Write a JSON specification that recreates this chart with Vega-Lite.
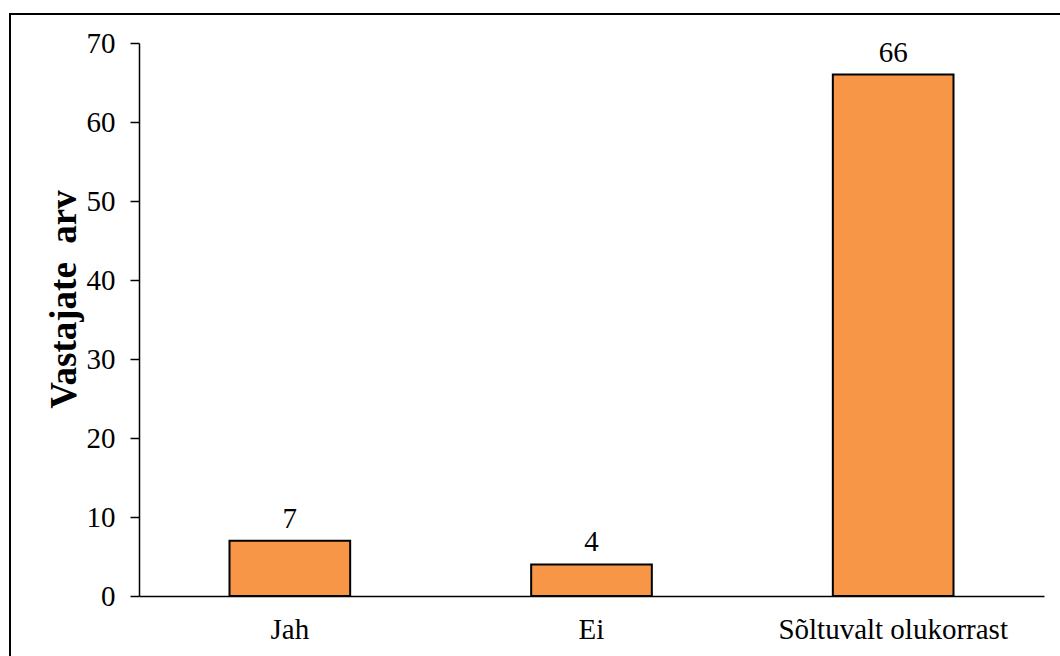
{
  "$schema": "https://vega.github.io/schema/vega-lite/v6.json",
  "autosize": {"type": "none"},
  "padding": {"left": 10, "top": 14, "right": 0, "bottom": 0},
  "width": 1060,
  "height": 700,
  "background": "white",
  "config": {
    "view": {"stroke": "black", "strokeWidth": 2, "fill": "white"},
    "font": "Liberation Serif"
  },
  "data": {
    "values": [
      {"vastus": "Jah", "arv": 7},
      {"vastus": "Ei", "arv": 4},
      {"vastus": "Sõltuvalt olukorrast", "arv": 66}
    ]
  },
  "encoding": {
    "x": {
      "field": "vastus",
      "type": "nominal",
      "sort": null,
      "scale": {"range": [129, 1034], "paddingInner": 0.6, "paddingOuter": 0.3},
      "axis": {
        "title": null,
        "orient": "bottom",
        "offset": -118,
        "labelAngle": 0,
        "labelLimit": 0,
        "ticks": false,
        "tickSize": 0,
        "labelPadding": 19,
        "labelFont": "Liberation Serif",
        "labelFontSize": 29,
        "labelColor": "black",
        "domainColor": "black",
        "domainWidth": 1.5,
        "grid": false
      }
    },
    "y": {
      "field": "arv",
      "type": "quantitative",
      "scale": {"domain": [0, 70], "range": [582, 29], "nice": false},
      "axis": {
        "title": "Vastajate\u00a0 arv",
        "titleFont": "Liberation Serif",
        "titleFontSize": 37,
        "titleFontWeight": "bold",
        "titleColor": "black",
        "titleAngle": -90,
        "titleBaseline": "alphabetic",
        "titleAlign": "center",
        "titleX": -64,
        "titleY": 285,
        "offset": -129,
        "values": [0, 10, 20, 30, 40, 50, 60, 70],
        "tickSize": 9,
        "tickWidth": 1.5,
        "tickColor": "black",
        "domainColor": "black",
        "domainWidth": 1.5,
        "labelPadding": 15,
        "labelFont": "Liberation Serif",
        "labelFontSize": 29,
        "labelColor": "black",
        "grid": false
      }
    }
  },
  "layer": [
    {
      "mark": {"type": "bar", "fill": "#F79646", "stroke": "black", "strokeWidth": 2}
    },
    {
      "mark": {
        "type": "text",
        "baseline": "alphabetic",
        "dy": -13,
        "font": "Liberation Serif",
        "fontSize": 29,
        "color": "black"
      },
      "encoding": {"text": {"field": "arv", "type": "quantitative"}}
    }
  ]
}
